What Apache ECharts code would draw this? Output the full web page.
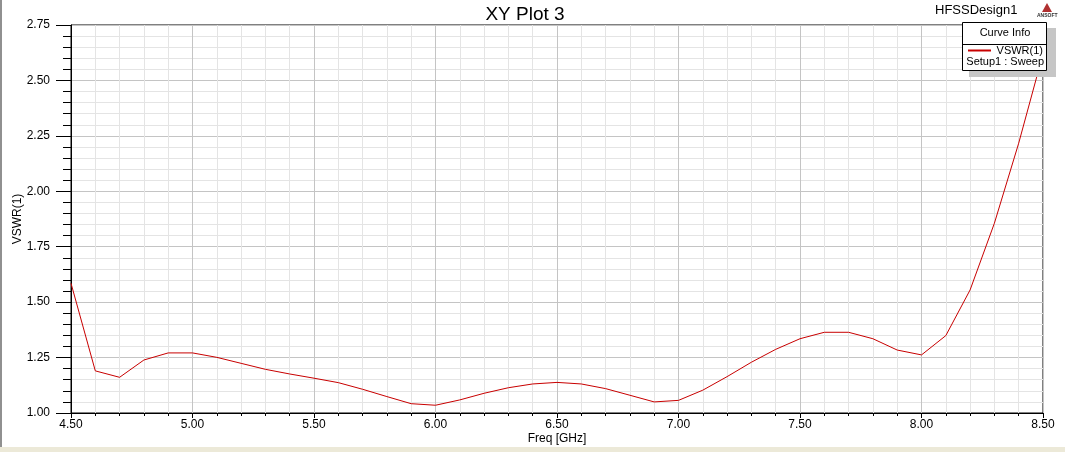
<!DOCTYPE html>
<html>
<head>
<meta charset="utf-8">
<script src="https://cdn.jsdelivr.net/npm/echarts@6/dist/echarts.min.js"></script>
<style>
html,body{margin:0;padding:0;background:#fff;}
#c{width:1065px;height:452px;}
</style>
</head>
<body>
<div id="c"></div>
<script>
const freqs = [4.5,4.6,4.7,4.8,4.9,5.0,5.1,5.2,5.3,5.4,5.5,5.6,5.7,5.8,5.9,6.0,6.1,6.2,6.3,6.4,6.5,6.6,6.7,6.8,6.9,7.0,7.1,7.2,7.3,7.4,7.5,7.6,7.7,7.8,7.9,8.0,8.1,8.2,8.3,8.4,8.5];
const vswr = [1.585,1.19,1.161,1.239,1.271,1.271,1.251,1.224,1.197,1.176,1.157,1.137,1.107,1.074,1.042,1.035,1.059,1.089,1.114,1.131,1.138,1.131,1.110,1.080,1.050,1.057,1.103,1.164,1.229,1.287,1.335,1.364,1.364,1.335,1.284,1.262,1.349,1.555,1.856,2.217,2.62];
const title = "XY Plot 3";
const designName = "HFSSDesign1";
const seriesName = "VSWR(1)";
const setupName = "Setup1 : Sweep";
const xName = "Freq [GHz]";
const yName = "VSWR(1)";

const chart = echarts.init(document.getElementById('c'), null, {renderer:'canvas'});
const FONT = 'Liberation Sans, Arial, sans-serif';
const data = freqs.map((f,i)=>[f, vswr[i]]);
chart.setOption({
  animation:false,
  backgroundColor:'#fff',
  title:{text:title,left:520,top:0,textAlign:'center',textStyle:{fontFamily:FONT,fontSize:19,fontWeight:'normal',color:'#000'}},
  grid:{left:71,right:22,top:25,bottom:39,show:true,borderColor:'#000',borderWidth:1,containLabel:false,outerBoundsMode:'none'},
  xAxis:{type:'value',min:4.5,max:8.5,interval:0.5,
    name:xName,nameLocation:'middle',nameGap:20,nameMoveOverlap:false,nameTextStyle:{fontFamily:FONT,fontSize:12,color:'#000'},
    axisLine:{show:true,onZero:false,lineStyle:{color:'#000',width:1}},
    axisTick:{show:true,length:5,lineStyle:{color:'#000'}},
    minorTick:{show:true,splitNumber:5,length:3,lineStyle:{color:'#000'}},
    axisLabel:{fontFamily:FONT,fontSize:12,color:'#000',margin:6,formatter:v=>v.toFixed(2)},
    splitLine:{show:true,lineStyle:{color:'#c4c4c4',width:1}},
    minorSplitLine:{show:true,lineStyle:{color:'#e4e4e4',width:1}}},
  yAxis:{type:'value',min:1.0,max:2.75,interval:0.25,
    name:yName,nameLocation:'middle',nameGap:47,nameMoveOverlap:false,nameTextStyle:{fontFamily:FONT,fontSize:12,color:'#000'},
    axisLine:{show:true,onZero:false,lineStyle:{color:'#000',width:1}},
    axisTick:{show:true,length:15,lineStyle:{color:'#000'}},
    minorTick:{show:true,splitNumber:5,length:8,lineStyle:{color:'#000'}},
    axisLabel:{fontFamily:FONT,fontSize:12,color:'#000',margin:21,formatter:v=>v.toFixed(2)},
    splitLine:{show:true,lineStyle:{color:'#c4c4c4',width:1}},
    minorSplitLine:{show:true,lineStyle:{color:'#e4e4e4',width:1}}},
  series:[{type:'line',name:seriesName,data:data,showSymbol:false,symbol:'none',
    lineStyle:{color:'#c80000',width:1},itemStyle:{color:'#c80000'}}],
  graphic:[
    {type:'rect',left:0,top:0,shape:{width:2,height:452},style:{fill:'#909090'},silent:true},
    {type:'rect',left:0,top:447,shape:{width:1065,height:5},style:{fill:'#ece9d8'},silent:true},
    {type:'text',left:935,top:4,style:{text:designName,font:'13px '+FONT,fill:'#000'}},
    {type:'polygon',shape:{points:[[1047,3],[1042,12],[1052,12]]},style:{fill:'#b03030'}},
    {type:'text',left:1037,top:13,style:{text:'ANSOFT',font:'bold 5px '+FONT,fill:'#333'}},
    {type:'rect',shape:{x:969,y:28,width:87,height:49},style:{fill:'#c6c6c6'},z:100},
    {type:'rect',shape:{x:962.5,y:22.5,width:84,height:48},style:{fill:'#fff',stroke:'#000',lineWidth:1},z:101},
    {type:'line',shape:{x1:963,y1:44.5,x2:1046,y2:44.5},style:{stroke:'#000',lineWidth:1},z:102},
    {type:'text',style:{text:'Curve Info',x:1005,y:33,align:'center',verticalAlign:'middle',font:'11px '+FONT,fill:'#000'},z:102},
    {type:'line',shape:{x1:968,y1:50.5,x2:991,y2:50.5},style:{stroke:'#c80000',lineWidth:2},z:102},
    {type:'text',style:{text:seriesName,x:1043,y:51,align:'right',verticalAlign:'middle',font:'11px '+FONT,fill:'#000'},z:102},
    {type:'text',style:{text:setupName,x:1044,y:62,align:'right',verticalAlign:'middle',font:'11px '+FONT,fill:'#000'},z:102}
  ]
});
</script>
</body>
</html>
